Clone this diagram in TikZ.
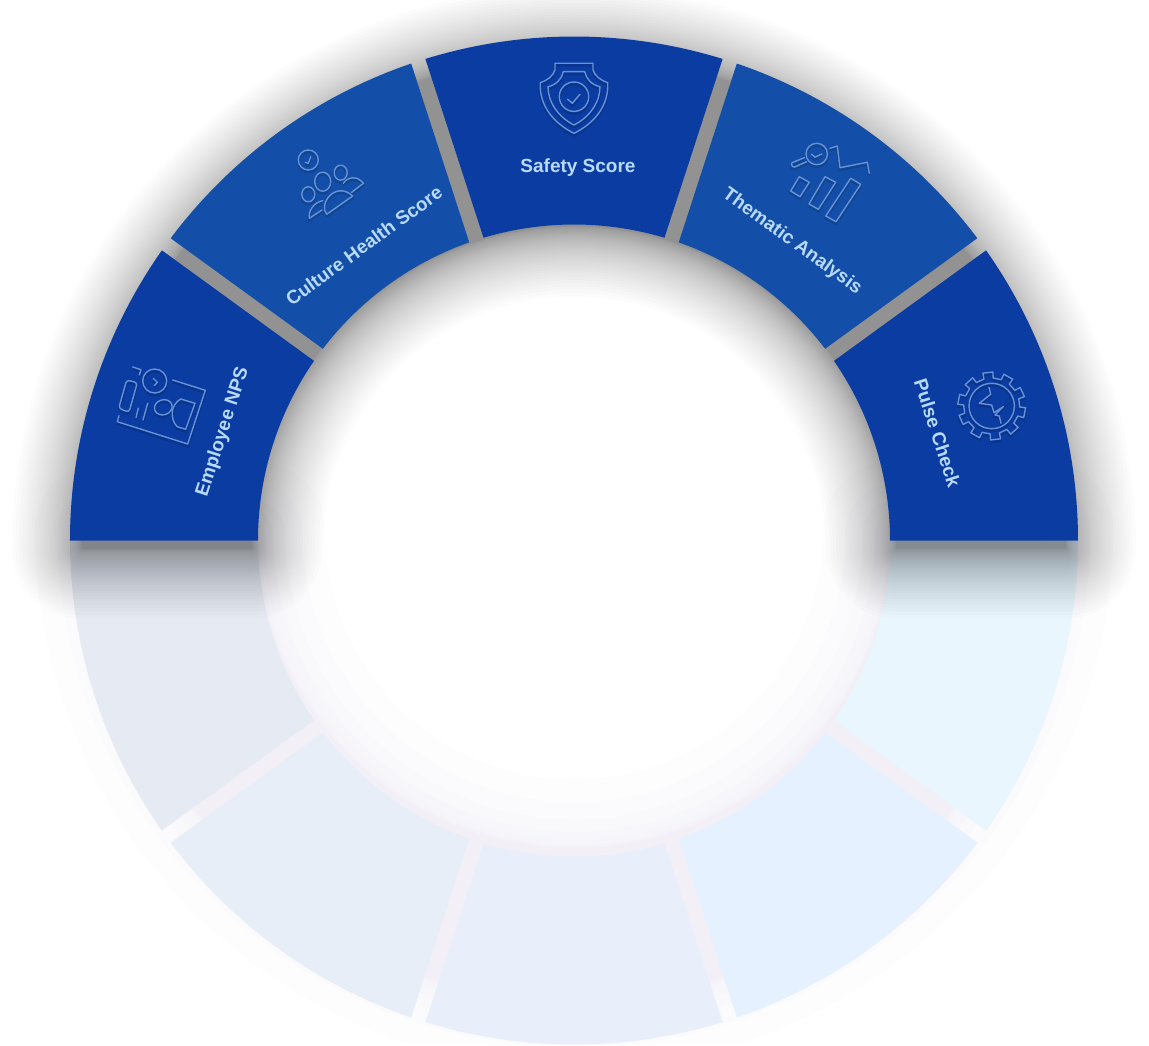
\documentclass[tikz,border=0pt]{standalone}
\usepackage{fontspec}
\setmainfont{Liberation Sans}
\definecolor{navyband}{RGB}{11,60,162}
\definecolor{midband}{RGB}{19,79,168}
\definecolor{labelblue}{RGB}{184,218,255}
\definecolor{iconblue}{RGB}{104,146,214}
\definecolor{paleslate}{RGB}{230,235,243}
\definecolor{palesteel}{RGB}{232,238,248}
\definecolor{paleperi}{RGB}{232,239,251}
\definecolor{palesky}{RGB}{229,241,254}
\definecolor{paleice}{RGB}{233,246,254}
\definecolor{lavshade}{RGB}{120,110,170}
\definecolor{lilacshade}{RGB}{120,110,225}
\newcommand{\ringsector}[4]{(#1:504) arc[start angle=#1, end angle=#2, radius=504] -- (#4:316) arc[start angle=#4, end angle=#3, radius=316] -- cycle}
\newcommand{\upperband}{(180:492) arc[start angle=180, end angle=0, radius=492] -- (0:322) arc[start angle=0, end angle=180, radius=322] -- cycle}
\newcommand{\lowerband}{(180:470) arc[start angle=180, end angle=360, radius=470] -- (0:318) arc[start angle=360, end angle=180, radius=318] -- cycle}
\tikzset{
  bandlabel/.style={text=labelblue, font=\fontsize{19}{21}\selectfont\bfseries, inner sep=0pt},
  iconline/.style={draw=iconblue, line width=1.4pt, line join=round, line cap=round,
    preaction={draw=black, draw opacity=.12, line width=2.8pt, transform canvas={yshift=-2pt}}},
  pixelframe/.style={shift={(-574,540.5)}, y=-1pt},
}
\begin{document}
\begin{tikzpicture}[x=1pt,y=1pt]
    \useasboundingbox (-574,-504.5) rectangle (575,540.5);
    \fill[white] (-574,-504.5) rectangle (575,540.5);

    \foreach \i/\tint in {1/lavshade,2/lilacshade,3/lavshade,4/lilacshade,5/lavshade,6/lilacshade,7/lavshade,8/lavshade} {
      \begin{scope}[transparency group, opacity=.007, yshift=10pt]
        \path (-800,-800) rectangle (800,800);
        \path[draw=\tint, fill=\tint, line join=round, line width=0.27pt*\i*\i*\i] \lowerband;
      \end{scope}
    }
    \fill[paleslate] \ringsector{-180}{-144.85}{-180}{-145.36};
    \fill[palesteel] \ringsector{-143.15}{-108.85}{-142.64}{-109.36};
    \fill[paleperi] \ringsector{-107.15}{-72.85}{-106.64}{-73.36};
    \fill[palesky] \ringsector{-71.15}{-36.85}{-70.64}{-37.36};
    \fill[paleice] \ringsector{-35.15}{0}{-34.64}{0};

    \foreach \i in {1,...,40} {
      \begin{scope}[transparency group, opacity=.0105, yshift=-8pt]
        \path (-800,-800) rectangle (800,800);
        \path[draw=black, fill=black, line join=round, line width=0.0875pt*\i*\i] \upperband;
      \end{scope}
    }

    \fill[navyband] \ringsector{180}{144.85}{180}{145.36};
    \fill[midband] \ringsector{143.15}{108.85}{142.64}{109.36};
    \fill[navyband] \ringsector{107.15}{72.85}{106.64}{73.36};
    \fill[midband] \ringsector{71.15}{36.85}{70.64}{37.36};
    \fill[navyband] \ringsector{35.15}{0}{34.64}{0};

    \node[bandlabel, rotate=72] (nps) at (-351,108.5) {Employee NPS};
    \node[bandlabel, rotate=36] (culture) at (-210,295) {Culture Health Score};
    \node[bandlabel] (safety) at (4,372.5) {Safety Score};
    \node[bandlabel, rotate=-36] (thematic) at (218,299) {Thematic Analysis};
    \node[bandlabel, rotate=-72] (pulse) at (363.5,107.5) {Pulse Check};

    \begin{scope}[pixelframe]
      \draw[iconline] (172.7,380) -- (205.3,390.3) -- (187.7,444) -- (117.3,421.7) -- (119,415.7);
      \draw[iconline] (132.7,367) -- (141,369.7) -- (139.3,375);
      \draw[iconline, rounded corners=3pt] (126.7,380) -- (137.3,382.7) -- (129,412.3) -- (118.7,408.3) -- cycle;
      \draw[iconline] (154.7,381) circle (12);
      \draw[iconline] (153.3,378.3) -- (157.3,382.3) -- (154.3,385.7);
      \draw[iconline] (138.3,408.3) -- (136,417.7);
      \draw[iconline] (147.7,403.3) -- (143,420);
      \draw[iconline, rotate around={18:(163.3,407.3)}] (163.3,407.3) ellipse (9 and 7.5);
      \draw[iconline] (180.7,399) -- (195,403.3) -- (185.7,429.3) -- (177.3,426.7) .. controls (170,420) and (170,405) .. (180.7,399);

      \draw[iconline] (308.3,160) circle (10);
      \draw[iconline] (305.3,162.3) -- (308.3,163.3) -- (310.7,156.7);
      \draw[iconline] (322.7,181.7) ellipse (8 and 9.5);
      \draw[iconline] (340.7,172.7) ellipse (6.5 and 7.5);
      \draw[iconline] (308.3,194.3) ellipse (6.5 and 7.5);
      \draw[iconline] (326.7,214.3) -- (352.7,196) .. controls (335,180) and (318,205) .. (326.7,214.3);
      \draw[iconline] (343.3,183.3) .. controls (348,176) and (358,176) .. (363.3,183.3) -- (351.7,192.3);
      \draw[iconline] (322.7,200.7) .. controls (315,202) and (308,210) .. (309.3,218.3) -- (322,210);

      \draw[iconline] (555,63.3) -- (593,63.3) -- (593,70) .. controls (595,76) and (600,80) .. (607.7,82.7) .. controls (609,105) and (595,123) .. (574,133.3) .. controls (553,123) and (539,105) .. (540.3,82.7) .. controls (548,80) and (553,76) .. (555,70) -- cycle;
      \draw[iconline] (563.3,71.7) -- (584.7,71.7) .. controls (586,79) and (592,85) .. (600,86.7) .. controls (600,102) and (590,117) .. (574,125) .. controls (558,117) and (548,102) .. (548,86.7) .. controls (556,85) and (562,79) .. (563.3,71.7) -- cycle;
      \draw[iconline] (574,96.7) circle (14.7);
      \draw[iconline] (567.7,99.3) -- (572.3,103.3) -- (580,94.3);

      \draw[iconline] (816.7,154) circle (10.7);
      \draw[iconline, rounded corners=1.5pt] (804.3,157.7) -- (790.7,163.3) -- (793.3,167.7) -- (806.7,161.7);
      \draw[iconline] (811.7,154.3) -- (815,157.3) -- (821.7,154);
      \draw[iconline] (830,148.3) -- (837.3,146) -- (840,167.7) -- (867.3,162.3) -- (869.3,173.3);
      \draw[iconline] (799.3,176.7) -- (809.3,182.3) -- (800,196.7) -- (790.7,191) -- cycle;
      \draw[iconline] (825,176.7) -- (835.7,182.3) -- (818.3,209.3) -- (809,204) -- cycle;
      \draw[iconline] (850.7,178.3) -- (860.7,184.3) -- (836,221.7) -- (825.7,216) -- cycle;

      \draw[iconline] (991.7,406) circle (22.7);
      \draw[iconline, shift={(991.7,406)}] (3:34) foreach \t in {0,36,...,324} { -- (\t+3:34) -- (\t+20:34) -- (\t+21:28) -- (\t+38:28) } -- cycle;
      \draw[iconline] (989,387.3) -- (990.7,394.3) -- (979.3,403.3) -- (991.7,405) -- (994,412.7) -- (1003.3,406.7) -- (995,415) -- (999.3,416) -- (1001,423.3);
    \end{scope}
\end{tikzpicture}
\end{document}
